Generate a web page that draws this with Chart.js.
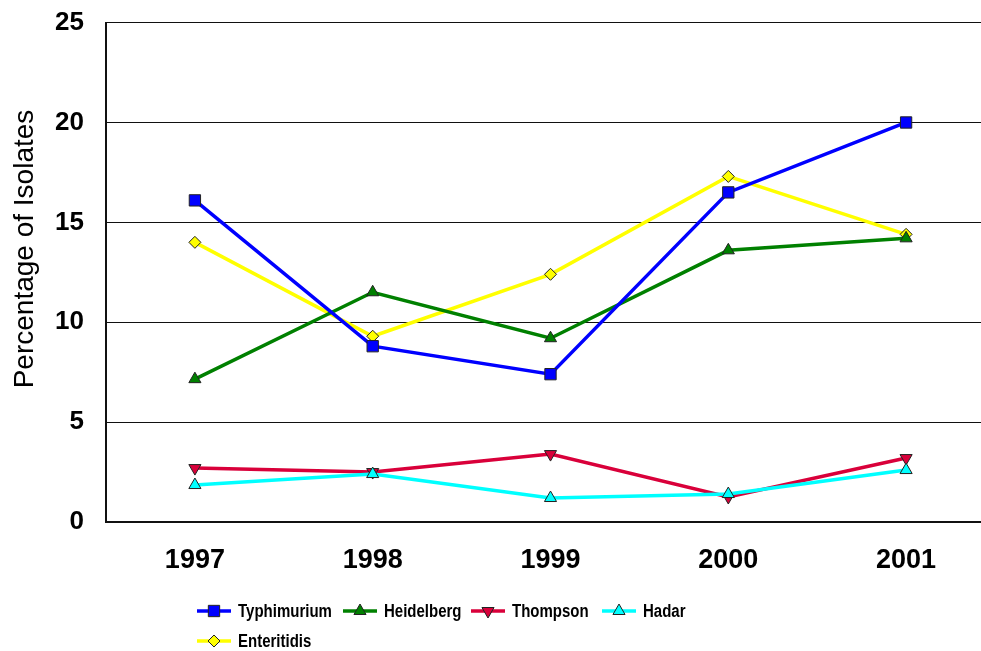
<!DOCTYPE html>
<html>
<head>
<meta charset="utf-8">
<script src="https://cdn.jsdelivr.net/npm/chart.js@4.4.1/dist/chart.umd.min.js"></script>
<style>
  html, body { margin: 0; padding: 0; background: #fff; overflow: hidden; }
  #wrap { width: 981px; height: 651px; overflow: hidden; }
  #box { width: 1004px; height: 666px; margin-top: -15px; }
</style>
</head>
<body>
<div id="wrap"><div id="box"><canvas id="chart"></canvas></div></div>
<script>
// chart data
const years = ['1997', '1998', '1999', '2000', '2001'];
const typhimurium = [16.1, 8.8, 7.4, 16.5, 20.0];
const heidelberg = [7.15, 11.5, 9.2, 13.6, 14.2];
const thompson = [2.7, 2.5, 3.4, 1.25, 3.2];
const hadar = [1.85, 2.4, 1.2, 1.4, 2.6];
const enteritidis = [14.0, 9.3, 12.4, 17.3, 14.4];
const yTicks = [0, 5, 10, 15, 20, 25];

const FONT = '"Liberation Sans", Arial, sans-serif';
const SHIFT = 15; // canvas is moved up by this much

function series(label, data, color, style, radius, rotation, order) {
  return {
    label,
    data,
    borderColor: color,
    backgroundColor: color,
    borderWidth: 3.5,
    pointStyle: style,
    pointRadius: radius,
    pointHoverRadius: radius,
    pointRotation: rotation,
    pointBorderColor: '#222',
    pointBorderWidth: 1,
    pointBackgroundColor: color,
    tension: 0,
    order
  };
}

// legend with line + marker, two rows like the original
const legendPos = [
  { x: 197, y: 611 }, { x: 343, y: 611 }, { x: 471, y: 611 }, { x: 602, y: 611 },
  { x: 197, y: 641 }
];

const lineLegend = {
  id: 'lineLegend',
  afterDraw(chart) {
    const ctx = chart.ctx;
    ctx.save();
    ctx.translate(0, SHIFT);
    // y axis title
    ctx.save();
    ctx.translate(25, 249);
    ctx.rotate(-Math.PI / 2);
    ctx.fillStyle = '#000';
    ctx.font = '28px ' + FONT;
    ctx.textAlign = 'center';
    ctx.textBaseline = 'middle';
    ctx.fillText('Percentage of Isolates', 0, 0);
    ctx.restore();

    chart.data.datasets.forEach((ds, i) => {
      const p = legendPos[i];
      ctx.strokeStyle = ds.borderColor;
      ctx.lineWidth = 3.5;
      ctx.beginPath();
      ctx.moveTo(p.x, p.y);
      ctx.lineTo(p.x + 34, p.y);
      ctx.stroke();
      ctx.fillStyle = ds.pointBackgroundColor;
      ctx.strokeStyle = ds.pointBorderColor;
      ctx.lineWidth = 1;
      Chart.helpers.drawPoint(ctx, {
        pointStyle: ds.pointStyle,
        rotation: ds.pointRotation,
        radius: ds.pointRadius,
        borderWidth: 1
      }, p.x + 17, p.y);
      ctx.save();
      ctx.translate(p.x + 41, p.y + 1);
      ctx.scale(1, 1.2);
      ctx.fillStyle = '#000';
      ctx.font = 'bold 15px ' + FONT;
      ctx.textAlign = 'left';
      ctx.textBaseline = 'middle';
      ctx.fillText(ds.label, 0, 0);
      ctx.restore();
    });
    ctx.restore();
  }
};

new Chart(document.getElementById('chart'), {
  type: 'line',
  data: {
    labels: years,
    datasets: [
      series('Typhimurium', typhimurium, '#0000FF', 'rect', 8, 0, 0),
      series('Heidelberg', heidelberg, '#008000', 'triangle', 7, 0, 1),
      series('Thompson', thompson, '#D9003A', 'triangle', 7, 180, 3),
      series('Hadar', hadar, '#00FFFF', 'triangle', 7, 0, 2),
      series('Enteritidis', enteritidis, '#FFFF00', 'rectRot', 6, 0, 4)
    ]
  },
  options: {
    responsive: true,
    maintainAspectRatio: false,
    animation: false,
    layout: { padding: { top: 7, right: 1, left: 0, bottom: 0 } },
    plugins: {
      legend: { display: false },
      tooltip: { enabled: false }
    },
    scales: {
      x: {
        offset: true,
        grid: { display: false, drawTicks: false },
        border: { display: true, color: '#111', width: 2 },
        ticks: {
          color: '#000',
          padding: 22,
          font: { family: FONT, size: 27, weight: 'bold' }
        },
        afterFit(scale) { scale.height = 129; }
      },
      y: {
        min: 0,
        max: 25,
        afterBuildTicks(scale) { scale.ticks = yTicks.map(v => ({ value: v })); },
        grid: { color: '#111', lineWidth: 1, drawTicks: false, tickLength: 0 },
        border: { display: true, color: '#111', width: 2 },
        ticks: {
          color: '#000',
          padding: 22,
          font: { family: FONT, size: 26, weight: 'bold' }
        },
        afterFit(scale) { scale.width = 106; }
      }
    }
  },
  plugins: [lineLegend]
});
</script>
</body>
</html>
